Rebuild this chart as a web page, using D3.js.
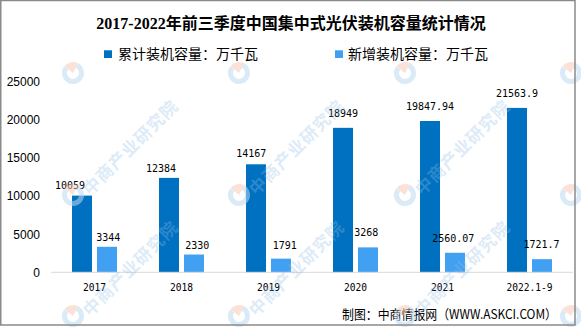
<!DOCTYPE html>
<html>
<head>
<meta charset="utf-8">
<script src="https://cdn.jsdelivr.net/npm/d3@7"></script>
<style>
  html, body { margin: 0; padding: 0; background: #fff; }
  svg { display: block; }
</style>
</head>
<body>
<svg id="chart" width="581" height="327"></svg>
<script>
// Centralised PV installed capacity, first three quarters, 2017–2022 (10 MW units)
const categories = ["2017", "2018", "2019", "2020", "2021", "2022.1-9"];
const cumulative = [10059, 12384, 14167, 18949, 19847.94, 21563.9];
const newlyAdded = [3344, 2330, 1791, 3268, 2560.07, 1721.7];
const cumulativeText = ["10059", "12384", "14167", "18949", "19847.94", "21563.9"];
const newlyAddedText = ["3344", "2330", "1791", "3268", "2560.07", "1721.7"];
const yTicks = [0, 5000, 10000, 15000, 20000, 25000];
const seriesNames = ["累计装机容量：万千瓦", "新增装机容量：万千瓦"];
const titleText = "2017-2022年前三季度中国集中式光伏装机容量统计情况";
const sourceText = "制图：中商情报网（WWW.ASKCI.COM）";
const watermarkText = "中商产业研究院";

const colors = ["#0070C0", "#41A0F2"];
const monoFont = "'DejaVu Sans Mono', 'Liberation Mono', monospace";
const cjkFont = "'Noto Sans CJK SC', sans-serif";

const svg = d3.select("#chart");

// Plot area
const plot = { left: 51, right: 573, top: 81.7, bottom: 272.3 };

const x0 = d3.scaleBand()
  .domain(categories)
  .range([plot.left, plot.right])
  .paddingInner(0.483)
  .paddingOuter(0.2415);

const x1 = d3.scaleBand()
  .domain([0, 1])
  .range([0, x0.bandwidth()])
  .paddingInner(0.2)
  .paddingOuter(0);

const y = d3.scaleLinear().domain([0, 25000]).range([plot.bottom, plot.top]);

// Title
svg.append("text")
  .attr("x", 291).attr("y", 23)
  .attr("text-anchor", "middle")
  .attr("dominant-baseline", "central")
  .style("font-family", "'Liberation Serif', 'Noto Sans CJK SC', serif")
  .style("font-weight", "bold")
  .style("font-size", "16px")
  .attr("fill", "#000")
  .text(titleText);

// Legend
const legendPos = [{ sx: 104, tx: 118 }, { sx: 335, tx: 348 }];
seriesNames.forEach((name, i) => {
  svg.append("rect")
    .attr("x", legendPos[i].sx).attr("y", 50.3)
    .attr("width", 8).attr("height", 7.7)
    .attr("fill", colors[i]);
  svg.append("text")
    .attr("x", legendPos[i].tx).attr("y", 53)
    .attr("dominant-baseline", "central")
    .style("font-family", cjkFont)
    .style("font-size", "14px")
    .attr("fill", "#000")
    .text(name);
});

// Y axis (labels only)
const yAxis = svg.append("g")
  .attr("transform", `translate(${plot.left},0)`)
  .call(d3.axisLeft(y).tickValues(yTicks).tickSize(0).tickPadding(11).tickFormat(d3.format("d")));
yAxis.select(".domain").remove();
yAxis.selectAll("text")
  .style("font-family", "'Liberation Sans', Arial, sans-serif")
  .style("font-size", "12px")
  .attr("fill", "#000");

// Bars
const series = [cumulative, newlyAdded];
series.forEach((vals, s) => {
  svg.append("g").selectAll("rect")
    .data(vals)
    .join("rect")
    .attr("x", (d, i) => x0(categories[i]) + x1(s))
    .attr("y", d => y(d))
    .attr("width", x1.bandwidth())
    .attr("height", d => y(0) - y(d))
    .attr("fill", colors[s]);
});

// Baseline
svg.append("line")
  .attr("x1", plot.left).attr("x2", plot.right)
  .attr("y1", y(0)).attr("y2", y(0))
  .attr("stroke", "#d9d9d9").attr("stroke-width", 1);

// X axis labels
const xAxis = svg.append("g")
  .attr("transform", `translate(0,${y(0)})`)
  .call(d3.axisBottom(x0).tickSize(0).tickPadding(0));
xAxis.select(".domain").remove();
xAxis.selectAll("text")
  .attr("y", 19).attr("dy", null)
  .style("font-family", monoFont)
  .style("font-size", "9.6px")
  .attr("fill", "#000");

// Value labels, with per-label nudges [dx, gap above bar]
const labelNudge = [
  [[-12, 7], [-8, 6], [-4.7, 7.3], [0, 11], [0, 10.7], [0, 10.4]],
  [[1.3, 5.4], [3.3, 5.7], [3.7, 10], [-1.7, 11], [-1.7, 11], [-0.5, 10.7]]
];
const labelTexts = [cumulativeText, newlyAddedText];
series.forEach((vals, s) => {
  svg.append("g").selectAll("text")
    .data(vals)
    .join("text")
    .attr("x", (d, i) => x0(categories[i]) + x1(s) + x1.bandwidth() / 2 + labelNudge[s][i][0])
    .attr("y", (d, i) => y(d) - labelNudge[s][i][1])
    .attr("text-anchor", "middle")
    .style("font-family", monoFont)
    .style("font-size", "10px")
    .attr("fill", "#000")
    .text((d, i) => labelTexts[s][i]);
});

// Source note
svg.append("text")
  .attr("x", 342).attr("y", 313)
  .attr("dominant-baseline", "central")
  .attr("textLength", 215)
  .attr("lengthAdjust", "spacingAndGlyphs")
  .style("font-family", cjkFont)
  .style("font-size", "13px")
  .attr("fill", "#000")
  .text(sourceText);

// Watermark pattern: logo marks on a grid, lettering where it fits inside the frame
const wm = svg.append("g").attr("pointer-events", "none");
const wmXs = [73, 239, 405, 571];
const wmYs = [73, 195, 316];
wmXs.forEach(cx => wmYs.forEach(cy => {
  const g = wm.append("g").attr("transform", `translate(${cx},${cy})`);
  const arc = d3.arc().innerRadius(6).outerRadius(11);
  g.append("path")
    .attr("d", arc({ startAngle: 0.5, endAngle: Math.PI * 1.7 }))
    .attr("fill", "#bcd8ef").attr("opacity", 0.55);
  g.append("path")
    .attr("d", arc.innerRadius(0)({ startAngle: -0.9, endAngle: 0.5 }))
    .attr("fill", "#f5c6b4").attr("opacity", 0.5);
  if (cy > 100 && cx < 500) {
    g.append("text")
      .attr("transform", "translate(12,-4) rotate(-45)")
      .attr("dominant-baseline", "central")
      .style("font-family", cjkFont)
      .style("font-weight", "bold")
      .style("font-size", "17px")
      .style("letter-spacing", "1px")
      .attr("fill", "#8fc0e8")
      .attr("opacity", 0.3)
      .text(watermarkText);
  }
}));

// Frame
svg.append("rect")
  .attr("x", 0.75).attr("y", 0.5)
  .attr("width", 574.25).attr("height", 324.5)
  .attr("fill", "none")
  .attr("stroke", "#8a8a8a").attr("stroke-width", 1.5);
</script>
</body>
</html>
